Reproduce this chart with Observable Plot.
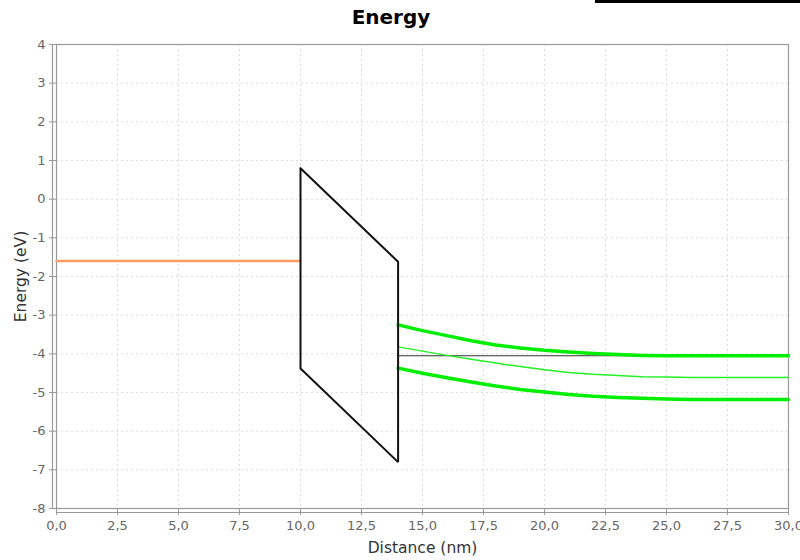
<!DOCTYPE html>
<html>
<head>
<meta charset="utf-8">
<script src="https://cdn.jsdelivr.net/npm/d3@7"></script>
<script src="https://cdn.jsdelivr.net/npm/@observablehq/plot@0.6"></script>
<style>
  html, body { margin: 0; padding: 0; background: #fff; }
  #wrap { position: relative; width: 800px; height: 560px; overflow: hidden; }
  #title { position: absolute; top: 5px; left: 391px; transform: translateX(-50%);
           font-family: "DejaVu Sans", sans-serif; font-weight: bold; font-size: 20px; color: #000; z-index: 2; }
  #bar { position: absolute; top: 0; left: 595px; width: 205px; height: 3px; background: #000; z-index: 2; }
  #chart { position: absolute; top: 0; left: 0; }
</style>
</head>
<body>
<div id="wrap">
  <div id="bar"></div>
  <div id="title">Energy</div>
  <div id="chart"></div>
</div>
<script>
// Data
const xTicks = [0, 2.5, 5, 7.5, 10, 12.5, 15, 17.5, 20, 22.5, 25, 27.5, 30];
const yTicks = [-8, -7, -6, -5, -4, -3, -2, -1, 0, 1, 2, 3, 4];

const leftX = [0, 10];
const leftY = [-1.6, -1.6];

const barrierX = [10, 14, 14, 10, 10];
const barrierY = [0.8, -1.62, -6.8, -4.38, 0.8];

const fermiX = [14, 30];
const fermiY = [-4.05, -4.05];

const bandX =      [14,    15,    16,    17,    18,    19,    20,    21,    22,    23,    24,    25,    26,    28,    30];
const upperY =     [-3.25, -3.40, -3.53, -3.66, -3.77, -3.85, -3.91, -3.95, -3.99, -4.02, -4.04, -4.05, -4.05, -4.05, -4.05];
const middleY =    [-3.82, -3.93, -4.04, -4.14, -4.24, -4.33, -4.41, -4.48, -4.53, -4.56, -4.59, -4.60, -4.61, -4.61, -4.61];
const lowerY =     [-4.37, -4.50, -4.62, -4.73, -4.83, -4.92, -4.99, -5.05, -5.10, -5.13, -5.15, -5.17, -5.18, -5.18, -5.18];

const toPts = (xs, ys) => xs.map((x, i) => ({x, y: ys[i]}));
const left = toPts(leftX, leftY);
const barrier = toPts(barrierX, barrierY);
const fermi = toPts(fermiX, fermiY);
const upper = toPts(bandX, upperY);
const middle = toPts(bandX, middleY);
const lower = toPts(bandX, lowerY);

const green = "#00ee00";

const chart = Plot.plot({
  width: 800,
  height: 560,
  marginTop: 44,
  marginLeft: 56,
  marginRight: 12,
  marginBottom: 52,
  style: { fontFamily: "DejaVu Sans, sans-serif", fontSize: "13px", background: "#fff", overflow: "visible" },
  x: { domain: [0, 30] },
  y: { domain: [-8, 4] },
  marks: [
    Plot.gridX(xTicks, { stroke: "#dcdcdc", strokeOpacity: 1, strokeDasharray: "2,3" }),
    Plot.gridY(yTicks, { stroke: "#dcdcdc", strokeOpacity: 1, strokeDasharray: "2,3" }),
    Plot.frame({ stroke: "#999", strokeWidth: 1.2 }),
    Plot.ruleX([0], { dx: -4, y1: -8, y2: 4, stroke: "#999", strokeWidth: 1.2 }),
    Plot.ruleY([-8], { dy: 4, x1: 0, x2: 30, stroke: "#999", strokeWidth: 1.2 }),
    Plot.axisX(xTicks, {
      tickSize: 7, tickPadding: 5, stroke: "#999", fill: "#666", fontSize: 13,
      tickFormat: d => d.toFixed(1).replace(".", ","),
      label: "Distance (nm)", labelAnchor: "center", labelArrow: "none", labelOffset: 44
    }),
    Plot.axisY(yTicks, {
      tickSize: 7, tickPadding: 4, stroke: "#999", fill: "#666", fontSize: 13,
      tickFormat: d => String(d),
      label: "Energy (eV)", labelAnchor: "center", labelArrow: "none", labelOffset: 42
    }),
    Plot.line(left, { x: "x", y: "y", stroke: "#ff9966", strokeWidth: 2.5 }),
    Plot.line(fermi, { x: "x", y: "y", stroke: "#333", strokeWidth: 1.2 }),
    Plot.line(middle, { x: "x", y: "y", stroke: "#22f022", strokeWidth: 1.5 }),
    Plot.line(upper, { x: "x", y: "y", stroke: green, strokeWidth: 3.5 }),
    Plot.line(lower, { x: "x", y: "y", stroke: green, strokeWidth: 3.5 }),
    Plot.line(barrier, { x: "x", y: "y", stroke: "#111", strokeWidth: 2, strokeLinejoin: "miter" })
  ]
});
// style axis labels
chart.querySelectorAll("[aria-label='x-axis label'] text, [aria-label='y-axis label'] text").forEach(t => {
  t.setAttribute("fill", "#333");
  t.style.fontSize = "15.5px";
});
document.getElementById("chart").appendChild(chart);
</script>
</body>
</html>
